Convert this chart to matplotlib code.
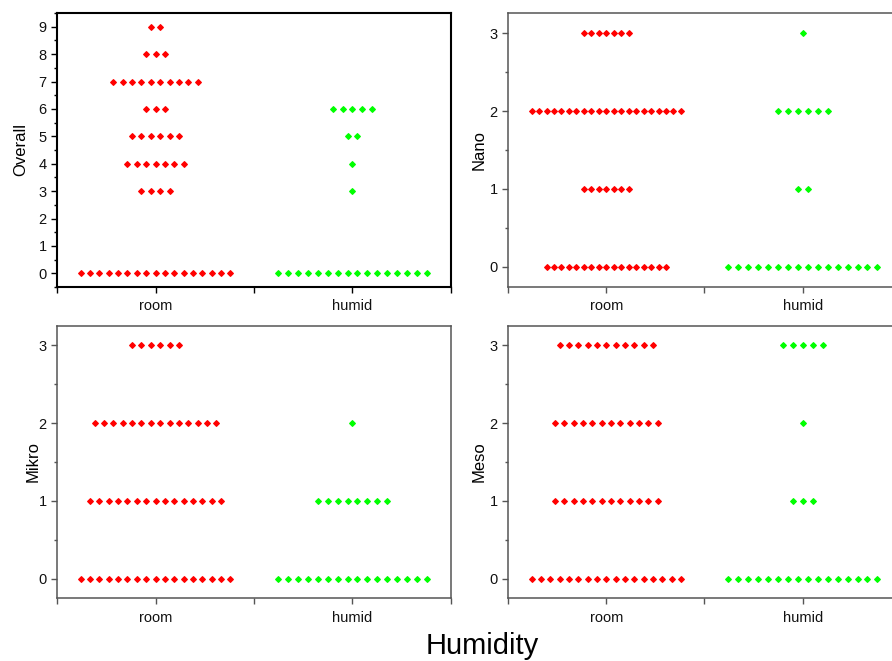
import matplotlib
matplotlib.use("Agg")
import matplotlib.pyplot as plt
import numpy as np

plt.rcParams['font.family'] = ['Liberation Sans', 'DejaVu Sans']

# -----------------------------
# Data: number of samples at each score level
# -----------------------------
groups = ["room", "humid"]
group_colors = ["#ff0000", "#00ff00"]

overall_levels = [0, 1, 2, 3, 4, 5, 6, 7, 8, 9]
overall_room_n = [17, 0, 0, 4, 7, 6, 3, 10, 3, 2]
overall_humid_n = [16, 0, 0, 1, 1, 2, 5, 0, 0, 0]

sub_levels = [0, 1, 2, 3]
nano_room_n = [17, 7, 21, 7]
nano_humid_n = [16, 2, 6, 1]
mikro_room_n = [17, 15, 14, 6]
mikro_humid_n = [16, 8, 1, 0]
meso_room_n = [17, 12, 12, 11]
meso_humid_n = [16, 3, 1, 5]

ROW_WIDTH = 0.76  # widest row spans this many x units


def dot_strip(ax, center, levels, counts, color):
    nmax = max(counts)
    step = ROW_WIDTH / (nmax - 1) if nmax > 1 else 0
    xs, ys = [], []
    for lev, n in zip(levels, counts):
        for i in range(n):
            xs.append(center + (i - (n - 1) / 2) * step)
            ys.append(lev)
    ax.plot(xs, ys, linestyle="none", marker="D", ms=3.0, mew=0.8,
            mfc=color, mec=color)


def style_axes(ax, ylabel, levels, ylim, spine_color, spine_lw, pad):
    ax.set_xticks([0.5, 1, 1.5, 2, 2.5])
    ax.set_xticklabels(["", groups[0], "", groups[1], ""])
    ax.set_yticks(levels)
    ax.set_yticks(np.arange(levels[0] - 0.5, levels[-1] + 1, 1.0), minor=True)
    # limits after ticks, otherwise set_yticks widens the view
    ax.set_xlim(0.5, 2.5)
    ax.set_ylim(*ylim)
    ax.tick_params(axis="both", which="major", length=4, width=1,
                   labelsize=10.5, colors=spine_color, labelcolor="#111111")
    ax.tick_params(axis="y", which="minor", length=2.5, width=1,
                   colors=spine_color)
    ax.tick_params(axis="x", pad=5)
    for s in ax.spines.values():
        s.set_color(spine_color)
        s.set_linewidth(spine_lw)
    ax.set_ylabel(ylabel, fontsize=12, labelpad=pad)


fig = plt.figure(figsize=(8.92, 6.61), dpi=100)
W, H = 892.0, 661.0


def add_ax(left, top, right, bottom):
    return fig.add_axes([left / W, 1 - bottom / H, (right - left) / W, (bottom - top) / H])


ax_overall = add_ax(57, 13, 451, 287)
ax_nano = add_ax(508, 13, 901, 287)
ax_mikro = add_ax(57, 326, 451, 598)
ax_meso = add_ax(508, 326, 901, 598)

panels = [
    (ax_overall, "Overall", overall_levels, overall_room_n, overall_humid_n, (-0.5, 9.5), "black", 1.5, 7),
    (ax_nano, "Nano", sub_levels, nano_room_n, nano_humid_n, (-0.26, 3.26), "#555555", 1.1, 1.7),
    (ax_mikro, "Mikro", sub_levels, mikro_room_n, mikro_humid_n, (-0.25, 3.25), "#555555", 1.1, -2),
    (ax_meso, "Meso", sub_levels, meso_room_n, meso_humid_n, (-0.25, 3.25), "#555555", 1.1, 1.7),
]

for ax, label, levels, room_n, humid_n, ylim, sc, slw, pad in panels:
    dot_strip(ax, 1, levels, room_n, group_colors[0])
    dot_strip(ax, 2, levels, humid_n, group_colors[1])
    style_axes(ax, label, levels, ylim, sc, slw, pad)

fig.text(482 / W, 1 - 646 / H, "Humidity", ha="center", va="center", fontsize=21)

fig.savefig("out.png", dpi=100)
